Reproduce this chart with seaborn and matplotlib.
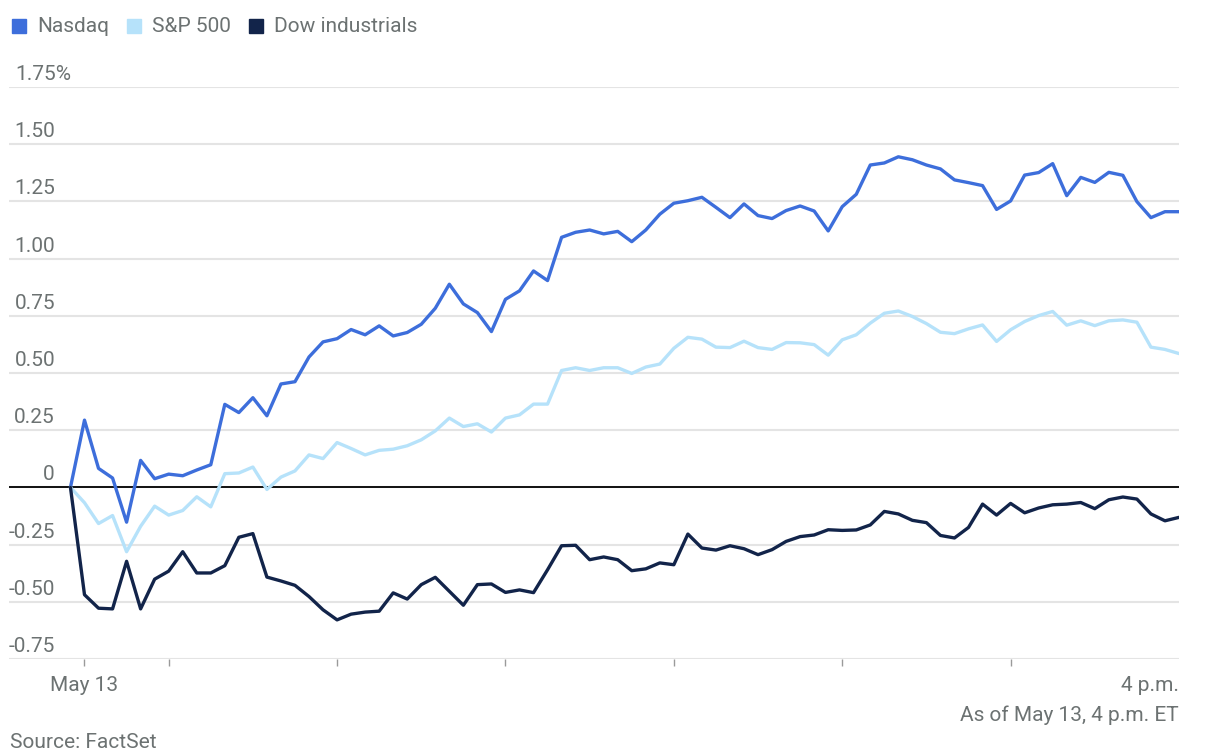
import matplotlib
matplotlib.use('Agg')
import matplotlib.pyplot as plt
import matplotlib.patches as mpatches
from matplotlib.transforms import offset_copy
import seaborn as sns
import pandas as pd

# minutes after 9:30 a.m. (first point = previous close at 9:25), 5-minute steps to 4 p.m.
minutes = list(range(-5, 391, 5))

nasdaq = [0, 0.294, 0.083, 0.041, -0.152, 0.118, 0.038, 0.058, 0.051, 0.076, 0.099,
          0.363, 0.327, 0.392, 0.313, 0.452, 0.462, 0.57, 0.636, 0.65, 0.69, 0.667,
          0.706, 0.662, 0.677, 0.713, 0.783, 0.888, 0.802, 0.764, 0.681, 0.822,
          0.859, 0.946, 0.904, 1.093, 1.115, 1.125, 1.108, 1.119, 1.074, 1.125,
          1.194, 1.242, 1.253, 1.268, 1.224, 1.179, 1.239, 1.188, 1.175, 1.210,
          1.230, 1.208, 1.121, 1.227, 1.281, 1.409, 1.418, 1.445, 1.432, 1.409,
          1.392, 1.344, 1.332, 1.319, 1.215, 1.252, 1.365, 1.376, 1.415, 1.275,
          1.355, 1.333, 1.377, 1.364, 1.249, 1.179, 1.205, 1.205]

sp500 = [0, -0.067, -0.158, -0.123, -0.281, -0.17, -0.082, -0.121, -0.101, -0.041, -0.085,
         0.06, 0.063, 0.089, -0.009, 0.045, 0.072, 0.142, 0.126, 0.196, 0.17, 0.142,
         0.162, 0.167, 0.182, 0.208, 0.247, 0.303, 0.266, 0.278, 0.242, 0.303,
         0.317, 0.364, 0.364, 0.511, 0.523, 0.511, 0.523, 0.523, 0.498, 0.526,
         0.539, 0.608, 0.656, 0.648, 0.613, 0.611, 0.639, 0.611, 0.603, 0.633,
         0.632, 0.624, 0.578, 0.645, 0.667, 0.718, 0.761, 0.771, 0.747, 0.716,
         0.678, 0.672, 0.693, 0.710, 0.638, 0.689, 0.725, 0.751, 0.769, 0.709,
         0.728, 0.707, 0.728, 0.732, 0.722, 0.613, 0.603, 0.585]

dow = [0, -0.469, -0.528, -0.531, -0.323, -0.531, -0.401, -0.366, -0.281, -0.374, -0.374,
       -0.342, -0.218, -0.202, -0.392, -0.409, -0.428, -0.477, -0.535, -0.579, -0.554, -0.545,
       -0.541, -0.461, -0.488, -0.425, -0.393, -0.454, -0.515, -0.425, -0.422, -0.459,
       -0.448, -0.460, -0.360, -0.255, -0.253, -0.316, -0.304, -0.316, -0.364, -0.356,
       -0.330, -0.338, -0.204, -0.265, -0.274, -0.255, -0.268, -0.294, -0.272, -0.236,
       -0.215, -0.208, -0.185, -0.188, -0.186, -0.164, -0.105, -0.116, -0.144, -0.154,
       -0.210, -0.221, -0.175, -0.073, -0.121, -0.070, -0.111, -0.090, -0.076, -0.073,
       -0.066, -0.093, -0.054, -0.042, -0.051, -0.116, -0.146, -0.131]

series_names = ['Nasdaq', 'S&P 500', 'Dow industrials']
colors = ['#3d6edb', '#b6e2fa', '#12244a']
y_ticks = [-0.75, -0.5, -0.25, 0, 0.25, 0.5, 0.75, 1.0, 1.25, 1.5, 1.75]
y_labels = ['-0.75', '-0.50', '-0.25', '0', '0.25', '0.50', '0.75', '1.00', '1.25', '1.50', '1.75%']
x_ticks = [0, 30, 90, 150, 210, 270, 330]  # 9:30, 10, 11, 12, 1, 2, 3

df = pd.DataFrame({
    'minute': minutes * 3,
    'change': nasdaq + sp500 + dow,
    'index': [series_names[0]] * len(nasdaq) + [series_names[1]] * len(sp500) + [series_names[2]] * len(dow),
})

sns.set_theme(style='white')
plt.rcParams['font.family'] = ['Roboto', 'DejaVu Sans']

W, H = 1209, 756
gray = '#6c7272'
grid_c = '#e4e4e4'

fig = plt.figure(figsize=(W / 100, H / 100), dpi=100)
ax = fig.add_axes([9 / W, 1 - 659 / H, 1170 / W, (659 - 87) / H])

sns.lineplot(data=df, x='minute', y='change', hue='index', palette=dict(zip(series_names, colors)),
             linewidth=2.4, legend=False, sort=False, ax=ax, zorder=3)

ax.set_xlim(-26.9, 390)
ax.set_ylim(-0.75, 1.75)
ax.set_yticks(y_ticks)
ax.set_xticks(x_ticks)
ax.set_xticklabels([])
ax.yaxis.grid(True, color=grid_c, linewidth=1.5)
ax.xaxis.grid(False)
ax.axhline(0, color='black', linewidth=1.3, zorder=2)
ax.tick_params(axis='y', left=False, labelleft=False)
ax.tick_params(axis='x', bottom=True, direction='out', length=5, width=1, color='#9a9a9a', pad=0)
for s in ax.spines.values():
    s.set_visible(False)
ax.set_xlabel('')
ax.set_ylabel('')

# y tick labels sit just above their gridlines
lab_tr = offset_copy(ax.get_yaxis_transform(), fig=fig, x=0, y=7, units='dots')
for v, lab in zip(y_ticks, y_labels):
    if lab.endswith('%'):
        ax.text(6 / 1170, v, lab, transform=lab_tr, ha='left', va='baseline', fontsize=15, color=gray)
    else:
        ax.text(46 / 1170, v, lab, transform=lab_tr, ha='right', va='baseline', fontsize=15, color=gray)

# x labels
fig.text(84 / W, 1 - 691 / H, 'May 13', ha='center', va='baseline', fontsize=15, color=gray)
fig.text(1179 / W, 1 - 691 / H, '4 p.m.', ha='right', va='baseline', fontsize=15, color=gray)
fig.text(1179 / W, 1 - 721 / H, 'As of May 13, 4 p.m. ET', ha='right', va='baseline', fontsize=15, color=gray)
fig.text(10 / W, 1 - 748 / H, 'Source: FactSet', ha='left', va='baseline', fontsize=15, color=gray)

# legend
leg_x = [12, 127, 249]
for lx, name, c in zip(leg_x, series_names, colors):
    fig.patches.append(mpatches.Rectangle((lx / W, 1 - 33 / H), 14 / W, 14 / H,
                                          transform=fig.transFigure, color=c, figure=fig))
    fig.text((lx + 25) / W, 1 - 32 / H, name, ha='left', va='baseline', fontsize=15, color=gray)

fig.savefig('out.png', dpi=100)
